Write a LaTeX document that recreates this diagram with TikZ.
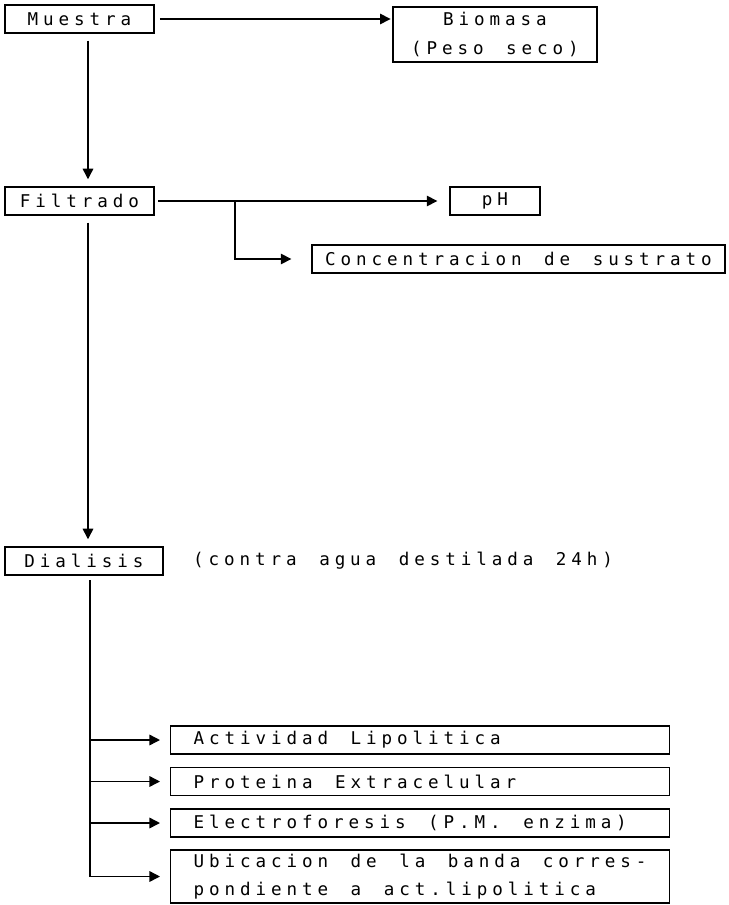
\documentclass[tikz,border=0pt]{standalone}
\usepackage{fontspec}
\newfontfamily\dotfont[LetterSpace=28]{DejaVu Sans Mono}
\newcommand\printerfont{\dotfont\fontsize{10}{16}\selectfont\spaceskip 0.45cm\relax}
\usetikzlibrary{arrows.meta}

\begin{document}
\begin{tikzpicture}[x=0.02cm, y=-0.02cm,
    every node/.style={font=\printerfont},
    box/.style={draw, line width=0.8pt, minimum height=0.56cm, inner sep=0pt},
    result/.style={box, anchor=west, text width=9.06cm, inner xsep=0.46cm, align=flush left,
      execute at begin node={\spaceskip 0.45cm\relax}},
    flow/.style={line width=0.8pt, -{Triangle[length=6pt,width=6pt]}}]
  \useasboundingbox (0,0) rectangle (728,905);
  % first level
  \node[box, minimum width=2.98cm] (muestra) at (79.5,19) {Muestra};
  \node[box, minimum width=4.08cm, minimum height=1.1cm, align=center] (biomasa) at (495,34.5) {Biomasa\\(Peso seco)};
  \draw[flow, shorten <=3pt, shorten >=1pt] (muestra.east) -- (muestra.east -| biomasa.west);
  % filtrate
  \node[box, minimum width=2.98cm] (filtrado) at (79.5,201) {Filtrado};
  \node[box, minimum width=1.8cm] (ph) at (495,201) {pH};
  \node[box, minimum width=8.26cm] (sustrato) at (518.5,259) {Concentracion de sustrato};
  \draw[flow, shorten <=4pt, shorten >=4pt] ([xshift=0.17cm]muestra.south) -- ([xshift=0.17cm]filtrado.north);
  \draw[flow, shorten <=2pt, shorten >=0.24cm] (filtrado.east) -- (filtrado.east -| ph.west);
  \coordinate (split) at (235,201);
  \draw[flow, shorten >=0.4cm] (split) |- (sustrato.west);
  % dialysis
  \node[box, minimum width=3.16cm] (dialisis) at (84,561) {Dialisis};
  \node[anchor=west] (agua) at (187,561) {(contra agua destilada 24h)};
  \draw[flow, shorten <=4pt, shorten >=4pt] ([xshift=0.17cm]filtrado.south) -- ([xshift=0.17cm]filtrado.south |- dialisis.north);
  % analyses
  \node[result] (lipolitica) at (170,740) {Actividad Lipolitica};
  \node[result] (proteina) at (170,781.5) {Proteina Extracelular};
  \node[result] (electro) at (170,823) {Electroforesis (P.M. enzima)};
  \node[result, minimum height=1.06cm] (banda) at (170,876.5) {Ubicacion de la banda corres-\\pondiente a act.lipolitica};
  \coordinate (trunk) at (90,580);
  \foreach \res in {lipolitica, proteina, electro, banda}
    \draw[flow, shorten >=0.2cm] (trunk) |- (\res.west);
\end{tikzpicture}
\end{document}
